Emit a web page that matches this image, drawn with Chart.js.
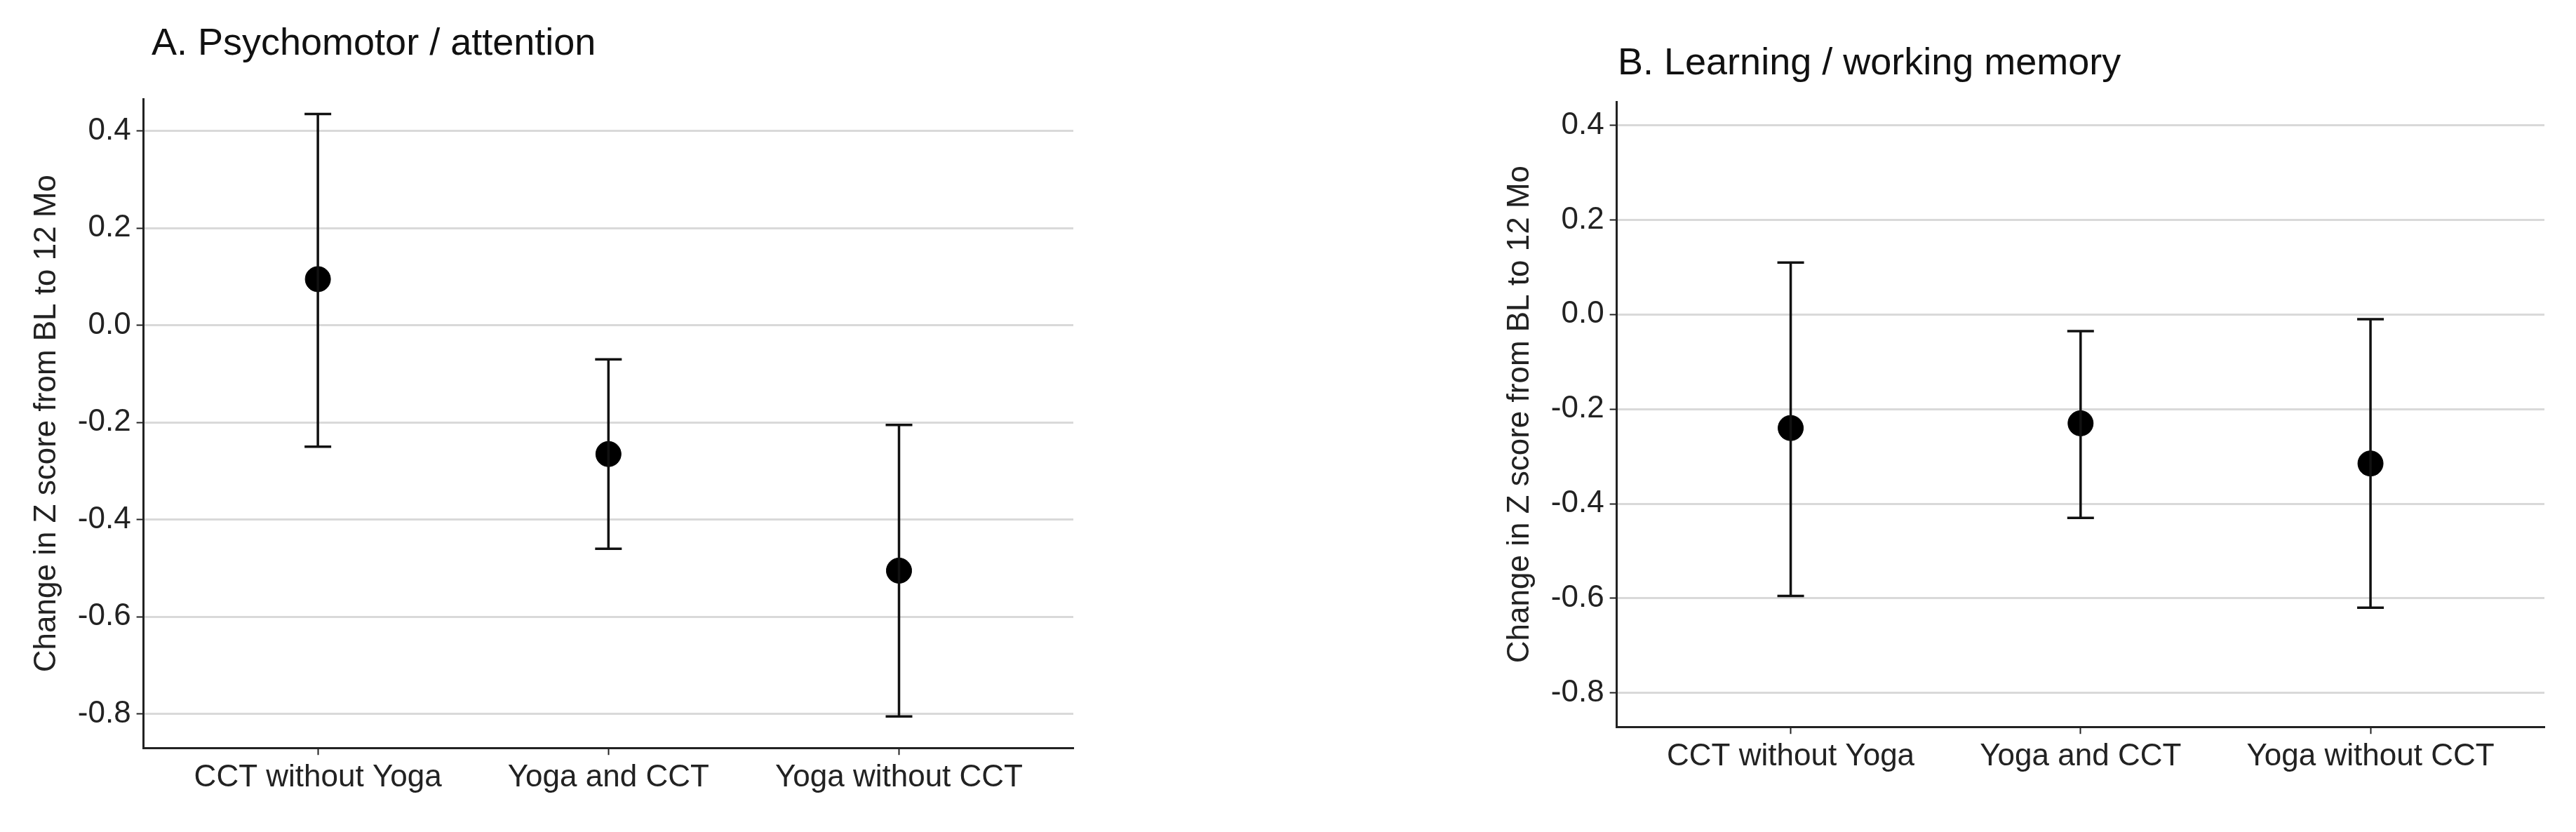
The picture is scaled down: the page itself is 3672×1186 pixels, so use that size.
<!DOCTYPE html>
<html><head><meta charset="utf-8">
<script src="https://cdn.jsdelivr.net/npm/chart.js@4"></script>
<style>
body{margin:0;background:#fff;width:3672px;height:1186px;position:relative;overflow:hidden}
.p{position:absolute;top:0;height:1186px}
.t{position:absolute;font-family:"Liberation Sans",Arial,sans-serif;font-size:54px;color:#111}
</style></head><body>
<div class="t" style="left:216px;top:28px">A. Psychomotor / attention</div>
<div class="t" style="left:2306px;top:56px">B. Learning / working memory</div>
<div class="p" style="left:0;width:1580px"><canvas id="a"></canvas></div>
<div class="p" style="left:2090px;width:1582px"><canvas id="b"></canvas></div>
<script>
const groups = ['CCT without Yoga', 'Yoga and CCT', 'Yoga without CCT']
const yTicks = [0.4, 0.2, 0.0, -0.2, -0.4, -0.6, -0.8]

const psychMean = [0.095, -0.265, -0.505]
const psychLow = [-0.25, -0.46, -0.805]
const psychHigh = [0.435, -0.07, -0.205]

const learnMean = [-0.24, -0.23, -0.315]
const learnLow = [-0.595, -0.43, -0.62]
const learnHigh = [0.11, -0.035, -0.01]

const errorBars = {
    id: 'errorBars',
    afterDatasetsDraw(chart, args, opts){
        const ctx = chart.ctx, x = chart.scales.x, y = chart.scales.y
        ctx.save()
        ctx.strokeStyle = '#111'
        ctx.lineWidth = 3.5
        opts.low.forEach((lo, i) => {
            const px = x.getPixelForValue(i + 1)
            const y1 = y.getPixelForValue(lo), y2 = y.getPixelForValue(opts.high[i])
            ctx.beginPath()
            ctx.moveTo(px, y1); ctx.lineTo(px, y2)
            ctx.moveTo(px - 19, y1); ctx.lineTo(px + 19, y1)
            ctx.moveTo(px - 19, y2); ctx.lineTo(px + 19, y2)
            ctx.stroke()
        })
        ctx.restore()
    }
}

function makeChart(id, mean, low, high, ymin, ymax, pad){
    const font = {family: '"Liberation Sans", Arial, sans-serif', size: 44}
    new Chart(document.getElementById(id), {
        type: 'scatter',
        data: {datasets: [{
            data: mean.map((v, i) => ({x: i + 1, y: v})),
            backgroundColor: '#000', borderColor: '#000',
            pointRadius: 18
        }]},
        plugins: [errorBars],
        options: {
            responsive: true, maintainAspectRatio: false, animation: false,
            layout: {padding: pad},
            plugins: {legend: {display: false}, tooltip: {enabled: false},
                errorBars: {low: low, high: high}},
            scales: {
                x: {
                    type: 'linear', min: 0.4, max: 3.6,
                    afterBuildTicks: s => { s.ticks = groups.map((g, i) => ({value: i + 1})) },
                    ticks: {color: '#222', font: font, padding: 6, maxRotation: 0,
                        callback: v => groups[v - 1]},
                    grid: {drawOnChartArea: false, tickColor: '#222', tickLength: 10, tickWidth: 2},
                    border: {color: '#222', width: 3}
                },
                y: {
                    min: ymin, max: ymax,
                    afterBuildTicks: s => { s.ticks = yTicks.map(v => ({value: v})) },
                    ticks: {color: '#222', font: font, padding: 8,
                        callback: v => v.toFixed(1)},
                    grid: {color: '#d9d9d9', lineWidth: 3, tickColor: '#222', tickLength: 10, tickWidth: 2},
                    border: {color: '#222', width: 3},
                    title: {display: true, text: 'Change in Z score from BL to 12 Mo',
                        color: '#222', font: font, padding: 10}
                }
            }
        }
    })
}

makeChart('a', psychMean, psychLow, psychHigh, -0.87, 0.466, {top: 141, right: 50, bottom: 45, left: 30})
makeChart('b', learnMean, learnLow, learnHigh, -0.872, 0.45, {top: 145, right: 45, bottom: 75, left: 40})
</script>
</body></html>
